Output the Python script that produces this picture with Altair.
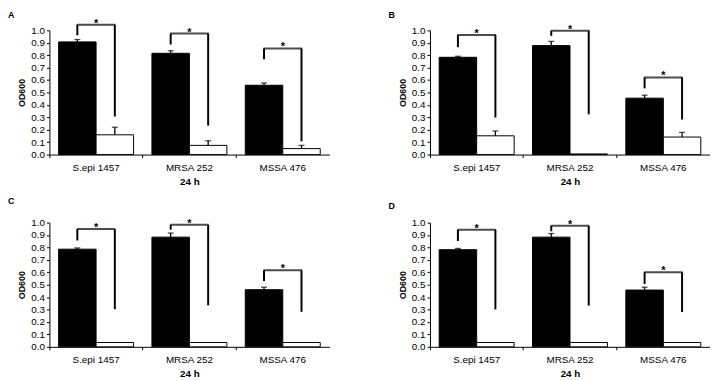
import altair as alt
import pandas as pd

categories = ["S.epi 1457", "MRSA 252", "MSSA 476"]
conditions = ["black", "white"]
y_ticks = [0.0, 0.1, 0.2, 0.3, 0.4, 0.5, 0.6, 0.7, 0.8, 0.9, 1.0]

# Bar heights (OD600) and upward error bars
A_black = [0.907, 0.815, 0.558]
A_black_err = [0.019, 0.021, 0.019]
A_white = [0.159, 0.074, 0.048]
A_white_err = [0.061, 0.037, 0.026]

B_black = [0.783, 0.877, 0.454]
B_black_err = [0.008, 0.034, 0.024]
B_white = [0.151, 0.005, 0.141]
B_white_err = [0.039, 0.0, 0.037]

C_black = [0.786, 0.883, 0.460]
C_black_err = [0.010, 0.033, 0.020]
C_white = [0.035, 0.035, 0.035]
C_white_err = [0.0, 0.0, 0.0]

D_black = [0.782, 0.883, 0.457]
D_black_err = [0.010, 0.029, 0.023]
D_white = [0.035, 0.035, 0.035]
D_white_err = [0.0, 0.0, 0.0]

# Significance brackets: left-leg bottom, right-leg bottom, bracket top
A_left = [0.960, 0.886, 0.767]
A_right = [0.307, 0.233, 0.106]
A_top = [1.045, 0.974, 0.854]

B_left = [0.864, 0.956, 0.533]
B_right = [0.298, 0.324, 0.282]
B_top = [0.963, 0.997, 0.621]

C_left = [0.856, 0.943, 0.530]
C_right = [0.303, 0.334, 0.282]
C_top = [0.948, 0.982, 0.616]

D_left = [0.852, 0.930, 0.506]
D_right = [0.301, 0.332, 0.280]
D_top = [0.943, 0.974, 0.600]

FONT = "Liberation Sans"
PW, PH = 284, 126


def panel(letter, black, black_err, white, white_err, left, right, top, title_dy):
    bars = pd.DataFrame({
        "cat": categories * 2,
        "cond": ["black"] * 3 + ["white"] * 3,
        "value": black + white,
        "err": black_err + white_err,
    })
    bars["err_top"] = bars["value"] + bars["err"]
    errs = bars[bars["err"] > 0]

    legs = pd.DataFrame({
        "cat": categories * 2,
        "cond": ["black"] * 3 + ["white"] * 3,
        "low": left + right,
        "top": top + top,
    })
    heads = pd.DataFrame({"cat": categories, "top": top})

    x_scale = alt.Scale(domain=categories, paddingInner=0, paddingOuter=0)
    xo = alt.XOffset("cond:N", sort=conditions,
                     scale=alt.Scale(domain=conditions, paddingInner=0, paddingOuter=0.245))
    y_scale = alt.Scale(domain=[0, 1], nice=False)

    y_axis = alt.Axis(values=y_ticks, format=".1f", title="OD600", grid=False,
                      tickSize=3, tickColor="black", domainColor="black",
                      labelColor="black", labelFontSize=10, labelFont=FONT,
                      titleFont=FONT, titleFontSize=9, titleFontWeight="bold",
                      titleColor="black", titlePadding=4, labelPadding=2)
    x_axis = alt.Axis(title="24 h", titleFont=FONT, titleFontSize=10,
                      titleFontWeight="bold", titleColor="black", titlePadding=4,
                      labelAngle=0, labelFont=FONT, labelFontSize=10,
                      labelColor="black", labelPadding=8, ticks=False,
                      domainColor="black", orient="bottom")
    x_tick_axis = alt.Axis(title=None, labels=False, ticks=True, tickSize=3,
                           tickColor="black", domain=False, bandPosition=0,
                           orient="bottom")

    def Y(field):
        return alt.Y(field, scale=y_scale, axis=y_axis)

    bar_layer = alt.Chart(bars).mark_bar(stroke="black", strokeWidth=1).encode(
        x=alt.X("cat:N", sort=categories, scale=x_scale, axis=x_axis),
        xOffset=xo,
        y=Y("value:Q"),
        fill=alt.Fill("cond:N", scale=alt.Scale(domain=conditions, range=["black", "white"]),
                      legend=None),
    )
    err_rule = alt.Chart(errs).mark_rule(color="black", strokeWidth=1.3).encode(
        x=alt.X("cat:N", sort=categories, scale=x_scale, axis=x_tick_axis),
        xOffset=xo,
        y=Y("value:Q"),
        y2="err_top:Q",
    )
    err_cap = alt.Chart(errs).mark_tick(color="black", size=6, thickness=1.3).encode(
        x=alt.X("cat:N", sort=categories, scale=x_scale, axis=None),
        xOffset=xo,
        y=Y("err_top:Q"),
    )
    leg_layer = alt.Chart(legs).mark_rule(color="black", strokeWidth=2).encode(
        x=alt.X("cat:N", sort=categories, scale=x_scale, axis=None),
        xOffset=xo,
        y=Y("low:Q"),
        y2="top:Q",
    )
    head_layer = alt.Chart(heads).mark_tick(color="black", size=39, thickness=2).encode(
        x=alt.X("cat:N", sort=categories, scale=x_scale, axis=None),
        y=Y("top:Q"),
    )
    star_layer = alt.Chart(heads).mark_text(
        text="*", font=FONT, fontSize=11, fontWeight="bold", color="black",
        baseline="alphabetic", dy=2,
    ).encode(
        x=alt.X("cat:N", sort=categories, scale=x_scale, axis=None),
        y=Y("top:Q"),
    )
    return alt.layer(
        bar_layer, err_rule, err_cap, leg_layer, head_layer, star_layer
    ).resolve_axis(x="independent").properties(
        width=PW, height=PH,
        title=alt.TitleParams(letter, anchor="start", frame="group", dx=-42, dy=title_dy,
                              font=FONT, fontSize=9, fontWeight="bold",
                              color="black", offset=-2),
    )


pA = panel("A", A_black, A_black_err, A_white, A_white_err, A_left, A_right, A_top, 0)
pB = panel("B", B_black, B_black_err, B_white, B_white_err, B_left, B_right, B_top, -6)
pC = panel("C", C_black, C_black_err, C_white, C_white_err, C_left, C_right, C_top, -14)
pD = panel("D", D_black, D_black_err, D_white, D_white_err, D_left, D_right, D_top, -9)

chart = alt.vconcat(
    alt.hconcat(pA, pB, spacing=60),
    alt.hconcat(pC, pD, spacing=60),
    spacing=11,
).configure_view(stroke=None).properties(padding=0, background="white")

chart.save("out.html", embed_options={"renderer": "svg", "actions": False})
